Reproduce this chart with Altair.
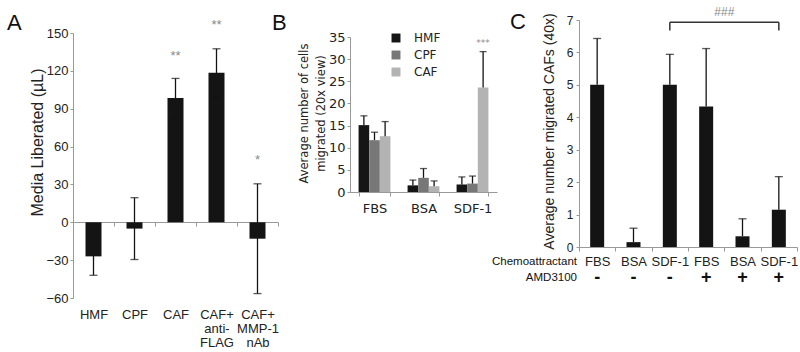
import altair as alt
import pandas as pd

# ---------------- Panel A data ----------------
a_cats = ["HMF", "CPF", "CAF", "CAF+\nanti-\nFLAG", "CAF+\nMMP-1\nnAb"]
a_vals = [-27, -5, 98.5, 118.5, -13]
a_errs = [15, 24.5, 15.5, 19, 43.5]
a_stars = ["", "", "**", "**", "*"]
a_star_y = [0, 0, 132, 156, 49]

# ---------------- Panel B data ----------------
b_groups = ["FBS", "BSA", "SDF-1"]
b_cells = ["HMF", "CPF", "CAF"]
b_hmf = [15.1, 1.5, 1.7]
b_cpf = [11.7, 3.2, 1.9]
b_caf = [12.6, 1.3, 23.6]
b_hmf_top = [17.2, 2.7, 3.4]
b_cpf_top = [13.5, 5.3, 3.6]
b_caf_top = [15.9, 2.5, 31.7]
b_star = "***"
b_star_y = 33.6

# ---------------- Panel C data ----------------
c_chemo = ["FBS", "BSA", "SDF-1", "FBS", "BSA", "SDF-1"]
c_amd = ["-", "-", "-", "+", "+", "+"]
c_vals = [5.0, 0.15, 5.0, 4.33, 0.33, 1.15]
c_tops = [6.43, 0.58, 5.94, 6.12, 0.87, 2.17]
c_bracket_y = 6.93
c_bracket_drop = 6.68
c_sig = "###"
c_sig_y = 7.26

AXC = "#999999"
TXT = "#222222"
BAR = "#141414"

# ================= Panel A =================
dfA = pd.DataFrame({
    "cat": a_cats,
    "val": a_vals,
    "lo": [v - e for v, e in zip(a_vals, a_errs)],
    "hi": [v + e for v, e in zip(a_vals, a_errs)],
    "star": a_stars,
    "sy": a_star_y,
})
xA_scale = alt.Scale(domain=a_cats, range=[73, 278], paddingInner=0, paddingOuter=0)
xA_axis = alt.Axis(title=None, orient="bottom", offset=-130, domainColor=AXC, tickColor=AXC,
                   tickBand="extent", tickSize=4, labelPadding=82, labelAngle=0,
                   labelFont="Liberation Sans", labelFontSize=13, labelColor=TXT,
                   labelExpr="split(datum.label, '\\n')", labelLineHeight=14,
                   labelOverlap=False, labelFlush=False)
yA_scale = alt.Scale(domain=[-60, 150], range=[298, 33], nice=False, zero=False)
yA_axis = alt.Axis(orient="left", offset=-73, values=list(range(-60, 151, 30)), grid=False,
                   title="Media Liberated (µL)", titleX=-36, titleY=142, titleAngle=270,
                   titleBaseline="middle", titleAlign="center", titleFont="Liberation Sans",
                   titleFontSize=16, titleFontWeight="normal", titleColor=TXT,
                   labelFont="Liberation Sans", labelFontSize=13, labelColor=TXT,
                   tickSize=3, labelPadding=2, domainColor=AXC, tickColor=AXC)
xA = alt.X("cat:N", sort=a_cats, scale=xA_scale, axis=xA_axis)

baseA = alt.Chart(dfA)
barsA = baseA.mark_bar(size=16, color=BAR).encode(
    x=xA, y=alt.Y("val:Q", scale=yA_scale, axis=yA_axis), y2=alt.datum(0))
errA = baseA.mark_rule(color=BAR, strokeWidth=1.3).encode(
    x=xA, y=alt.Y("lo:Q", scale=yA_scale, axis=yA_axis), y2="hi:Q")
capHiA = baseA.mark_tick(color=BAR, size=8, thickness=1.3).encode(
    x=xA, y=alt.Y("hi:Q", scale=yA_scale, axis=yA_axis))
capLoA = baseA.mark_tick(color=BAR, size=8, thickness=1.3).encode(
    x=xA, y=alt.Y("lo:Q", scale=yA_scale, axis=yA_axis))
starsA = baseA.transform_filter("datum.star != ''").mark_text(
    font="Liberation Sans", fontSize=13, color="#8a8a8a", baseline="middle").encode(
    x=xA, y=alt.Y("sy:Q", scale=yA_scale, axis=yA_axis), text="star:N")
letterA = alt.Chart(pd.DataFrame({"t": ["A"]})).mark_text(
    font="Liberation Sans", fontSize=22, align="left", baseline="alphabetic", color="#111").encode(
    text="t:N", x=alt.value(7), y=alt.value(30))

panelA = alt.layer(barsA, errA, capHiA, capLoA, starsA, letterA)

# ================= Panel B =================
rowsB = []
for cell, vals, tops in [("HMF", b_hmf, b_hmf_top), ("CPF", b_cpf, b_cpf_top), ("CAF", b_caf, b_caf_top)]:
    for g, v, t in zip(b_groups, vals, tops):
        rowsB.append({"group": g, "cell": cell, "val": v, "top": t})
dfB = pd.DataFrame(rowsB)

xB_scale = alt.Scale(domain=b_groups, range=[350, 497], paddingInner=0.35, paddingOuter=0.175)
xB_axis = alt.Axis(title=None, orient="bottom", offset=-160, domainColor=AXC, tickColor=AXC,
                   tickBand="extent", tickSize=4, labelPadding=6, labelAngle=0,
                   labelFont="DejaVu Sans", labelFontSize=13, labelColor=TXT,
                   labelOverlap=False, labelFlush=False)
yB_scale = alt.Scale(domain=[0, 35], range=[192, 37], nice=False, zero=False)
yB_axis = alt.Axis(orient="left", offset=-350, values=list(range(0, 36, 5)), grid=False,
                   title=["Average number of cells", "migrated (20x view)"],
                   titleX=-46, titleY=113, titleAngle=270, titleBaseline="middle",
                   titleAlign="center", titleFont="DejaVu Sans", titleFontSize=11.5,
                   titleFontWeight="normal", titleColor=TXT, titleLineHeight=17,
                   labelFont="DejaVu Sans", labelFontSize=13, labelColor=TXT,
                   tickSize=3, labelPadding=2, domainColor=AXC, tickColor=AXC)
xB = alt.X("group:N", sort=b_groups, scale=xB_scale, axis=xB_axis)
xoB = alt.XOffset("cell:N", sort=b_cells, scale=alt.Scale(domain=b_cells, paddingInner=0, paddingOuter=0))
colB = alt.Color("cell:N", sort=b_cells,
                 scale=alt.Scale(domain=b_cells, range=["#151515", "#777777", "#b3b3b3"]),
                 legend=alt.Legend(orient="none", legendX=390, legendY=32, title=None,
                                   symbolType="square", symbolSize=80, symbolStrokeWidth=0,
                                   labelFont="DejaVu Sans", labelFontSize=12, labelColor=TXT,
                                   rowPadding=5, labelOffset=12))
baseB = alt.Chart(dfB)
barsB = baseB.mark_bar().encode(
    x=xB, xOffset=xoB, y=alt.Y("val:Q", scale=yB_scale, axis=yB_axis), y2=alt.datum(0), color=colB)
errB = baseB.mark_rule(color=BAR, strokeWidth=1.3).encode(
    x=xB, xOffset=xoB, y=alt.Y("val:Q", scale=yB_scale, axis=yB_axis), y2="top:Q")
capB = baseB.mark_tick(color=BAR, size=7, thickness=1.3).encode(
    x=xB, xOffset=xoB, y=alt.Y("top:Q", scale=yB_scale, axis=yB_axis))
starB = alt.Chart(pd.DataFrame({"group": ["SDF-1"], "cell": ["CAF"], "t": [b_star], "sy": [b_star_y]})).mark_text(
    font="DejaVu Sans", fontSize=9, color="#8a8a8a", baseline="middle").encode(
    x=xB, xOffset=xoB, y=alt.Y("sy:Q", scale=yB_scale, axis=yB_axis), text="t:N")
letterB = alt.Chart(pd.DataFrame({"t": ["B"]})).mark_text(
    font="Liberation Sans", fontSize=22, align="left", baseline="alphabetic", color="#111").encode(
    text="t:N", x=alt.value(272), y=alt.value(30))

panelB = alt.layer(barsB, errB, capB, starB, letterB)

# ================= Panel C =================
c_keys = [f"{c}|{a}" for c, a in zip(c_chemo, c_amd)]
dfC = pd.DataFrame({"key": c_keys, "amd": c_amd, "val": c_vals, "top": c_tops})
xC_scale = alt.Scale(domain=c_keys, range=[579, 797], paddingInner=0, paddingOuter=0)
xC_axis = alt.Axis(title=None, orient="bottom", offset=-105, domainColor=AXC, tickColor=AXC,
                   tickBand="extent", tickSize=4, labelPadding=4, labelAngle=0,
                   labelFont="Liberation Sans Narrow, Liberation Sans", labelFontSize=13,
                   labelColor=TXT, labelExpr="split(datum.label, '|')[0]",
                   labelOverlap=False, labelFlush=False)
yC_scale = alt.Scale(domain=[0, 7], range=[247, 20], nice=False, zero=False)
yC_axis = alt.Axis(orient="left", offset=-579, values=list(range(0, 8)), grid=False,
                   title="Average number migrated CAFs (40x)", titleX=-30, titleY=131,
                   titleAngle=270, titleBaseline="middle", titleAlign="center",
                   titleFont="Liberation Sans", titleFontSize=14, titleFontWeight="normal",
                   titleColor=TXT, labelFont="Liberation Sans", labelFontSize=12,
                   labelColor=TXT, tickSize=3, labelPadding=3, domainColor=AXC, tickColor=AXC)
xC = alt.X("key:N", sort=c_keys, scale=xC_scale, axis=xC_axis)
baseC = alt.Chart(dfC)
barsC = baseC.mark_bar(size=14, color=BAR).encode(
    x=xC, y=alt.Y("val:Q", scale=yC_scale, axis=yC_axis), y2=alt.datum(0))
errC = baseC.mark_rule(color=BAR, strokeWidth=1.3).encode(
    x=xC, y=alt.Y("val:Q", scale=yC_scale, axis=yC_axis), y2="top:Q")
capC = baseC.mark_tick(color=BAR, size=8, thickness=1.3).encode(
    x=xC, y=alt.Y("top:Q", scale=yC_scale, axis=yC_axis))
amdC = baseC.mark_text(font="Liberation Sans", fontSize=18, fontWeight="bold", color="#111",
                       baseline="middle").encode(
    x=xC, y=alt.value(278), text="amd:N")

dfBr = pd.DataFrame({"key": [c_keys[2]], "k2": [c_keys[5]], "y": [c_bracket_y], "y2": [c_bracket_drop]})
brH = alt.Chart(dfBr).mark_rule(color="#333", strokeWidth=1.5).encode(
    x=xC, x2="k2:N", y=alt.Y("y:Q", scale=yC_scale, axis=yC_axis))
brL = alt.Chart(dfBr).mark_rule(color="#333", strokeWidth=1.5).encode(
    x=xC, y=alt.Y("y:Q", scale=yC_scale, axis=yC_axis), y2="y2:Q")
brR = alt.Chart(dfBr).transform_calculate(key="datum.k2").mark_rule(color="#333", strokeWidth=1.5).encode(
    x=xC, y=alt.Y("y:Q", scale=yC_scale, axis=yC_axis), y2="y2:Q")
sigC = alt.Chart(pd.DataFrame({"key": [c_keys[3]], "t": [c_sig], "sy": [c_sig_y]})).mark_text(
    font="Liberation Sans", fontSize=12, color="#8a8a8a", baseline="middle").encode(
    x=alt.X("key:N", sort=c_keys, scale=xC_scale, axis=xC_axis, bandPosition=1),
    y=alt.Y("sy:Q", scale=yC_scale, axis=yC_axis), text="t:N")
rowLab = alt.Chart(pd.DataFrame({"t": ["Chemoattractant", "AMD3100"], "yy": [265, 281]})).mark_text(
    font="Liberation Sans", fontSize=11.5, align="right", baseline="alphabetic", color="#111").encode(
    text="t:N", x=alt.value(577), y=alt.Y("yy:Q", scale=None))
letterC = alt.Chart(pd.DataFrame({"t": ["C"]})).mark_text(
    font="Liberation Sans", fontSize=22, align="left", baseline="alphabetic", color="#111").encode(
    text="t:N", x=alt.value(510), y=alt.value(29))

panelC = alt.layer(barsC, errC, capC, amdC, brH, brL, brR, sigC, rowLab, letterC)

chart = alt.layer(panelA, panelB, panelC).resolve_scale(
    x="independent", y="independent", color="independent", xOffset="independent"
).resolve_axis(x="independent", y="independent").properties(
    width=800, height=352, padding=0, autosize=alt.AutoSizeParams(type="none"),
    background="white"
).configure_view(stroke=None)

chart.save("out.html", embed_options={"renderer": "svg", "actions": False})
